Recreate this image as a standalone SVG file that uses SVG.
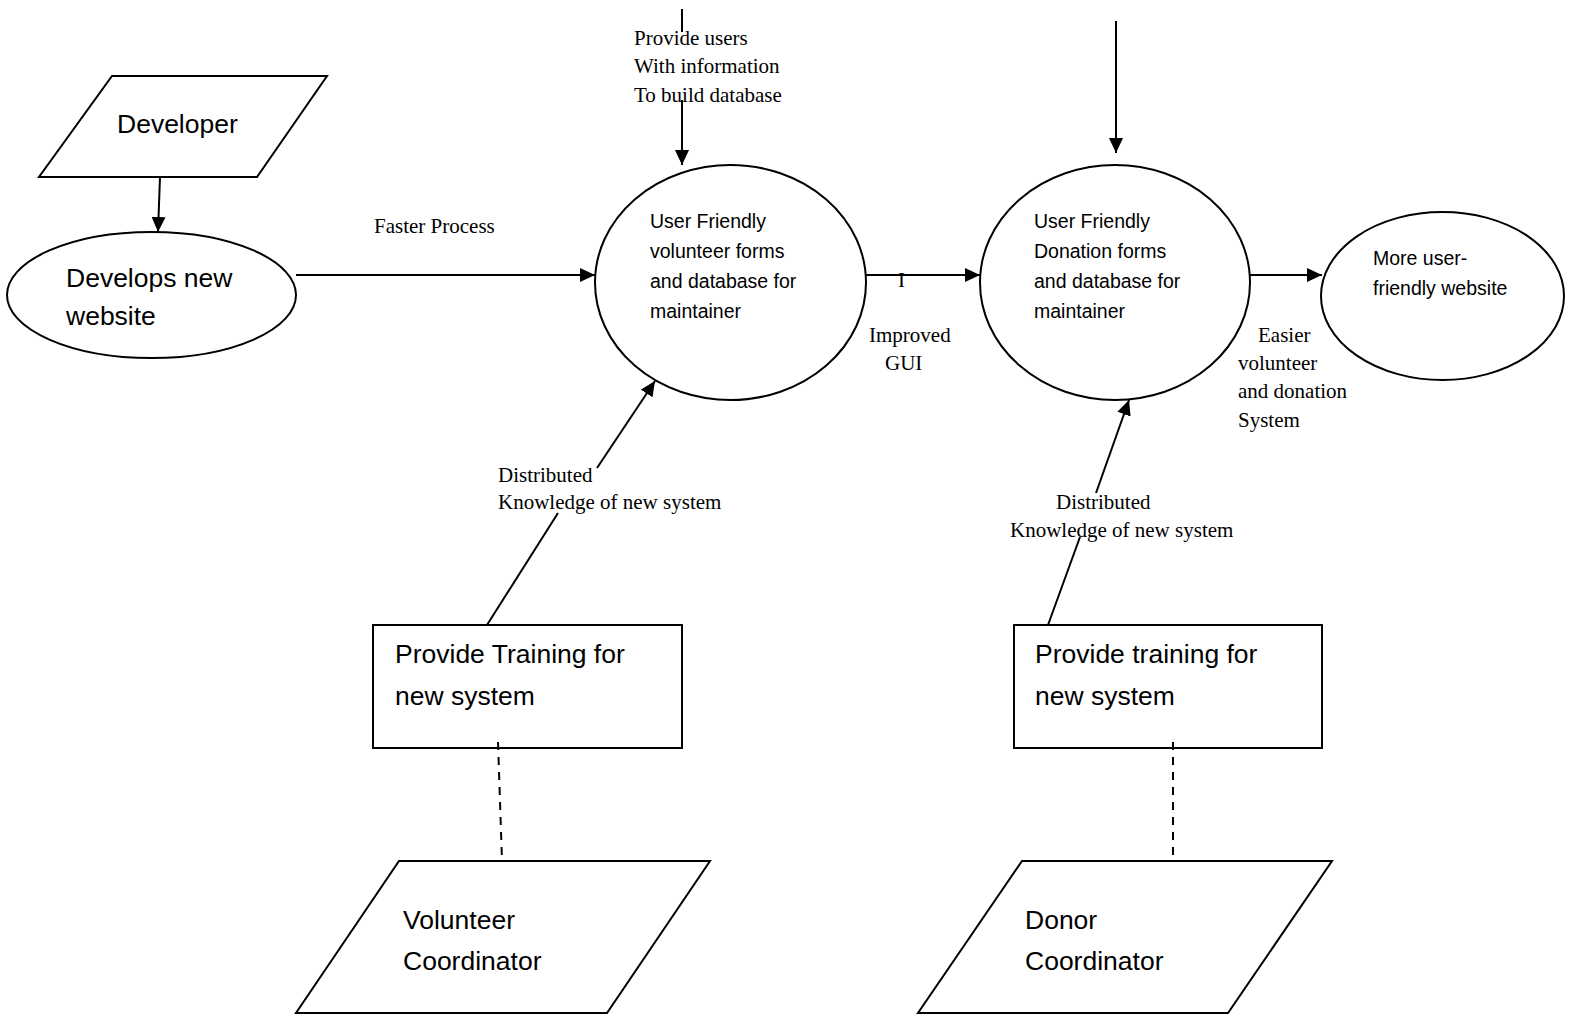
<svg xmlns="http://www.w3.org/2000/svg" width="1575" height="1026" viewBox="0 0 1575 1026">
<style>
.shape{fill:#fff;stroke:#000;stroke-width:2}
.ln{fill:none;stroke:#000;stroke-width:2}
.arr{marker-end:url(#ah)}
.dash{fill:none;stroke:#000;stroke-width:2;stroke-dasharray:8 7}
.sans{font-family:"Liberation Sans",Arial,sans-serif;fill:#000}
.big{font-size:26.5px}
.small{font-size:19.5px}
.serif{font-family:"Liberation Serif","Times New Roman",serif;font-size:21px;fill:#000}
</style>
<defs>
<marker id="ah" markerUnits="userSpaceOnUse" markerWidth="15" markerHeight="14" refX="15" refY="7" orient="auto">
<path d="M0,0 L15,7 L0,14 z" fill="#000"/>
</marker>
</defs>
<rect width="1575" height="1026" fill="#fff"/>

<g id="developer">
<polygon class="shape" points="112,76 327,76 257,177 39,177"/>
<text class="sans big" x="117" y="133">Developer</text>
</g>

<g id="develops-website">
<ellipse class="shape" cx="151.5" cy="295" rx="144.5" ry="63"/>
<text class="sans big" x="66" y="287">Develops new</text>
<text class="sans big" x="66" y="325">website</text>
</g>

<g id="volunteer-forms">
<ellipse class="shape" cx="730.5" cy="282.5" rx="135.5" ry="117.5"/>
<text class="sans small" x="650" y="228">User Friendly</text>
<text class="sans small" x="650" y="258">volunteer forms</text>
<text class="sans small" x="650" y="288">and database for</text>
<text class="sans small" x="650" y="318">maintainer</text>
</g>

<g id="donation-forms">
<ellipse class="shape" cx="1115" cy="282.5" rx="135" ry="117.5"/>
<text class="sans small" x="1034" y="228">User Friendly</text>
<text class="sans small" x="1034" y="258">Donation forms</text>
<text class="sans small" x="1034" y="288">and database for</text>
<text class="sans small" x="1034" y="318">maintainer</text>
</g>

<g id="user-friendly-website">
<ellipse class="shape" cx="1442.5" cy="296" rx="121.5" ry="84"/>
<text class="sans small" x="1373" y="265">More user-</text>
<text class="sans small" x="1373" y="295">friendly website</text>
</g>

<g id="training-volunteer">
<rect class="shape" x="373" y="625" width="309" height="123"/>
<text class="sans big" x="395" y="663">Provide Training for</text>
<text class="sans big" x="395" y="705">new system</text>
</g>

<g id="training-donor">
<rect class="shape" x="1014" y="625" width="308" height="123"/>
<text class="sans big" x="1035" y="663">Provide training for</text>
<text class="sans big" x="1035" y="705">new system</text>
</g>

<g id="volunteer-coordinator">
<polygon class="shape" points="399,861 710,861 607,1013 296,1013"/>
<text class="sans big" x="403" y="929">Volunteer</text>
<text class="sans big" x="403" y="970">Coordinator</text>
</g>

<g id="donor-coordinator">
<polygon class="shape" points="1022,861 1332,861 1228,1013 918,1013"/>
<text class="sans big" x="1025" y="929">Donor</text>
<text class="sans big" x="1025" y="970">Coordinator</text>
</g>

<g id="connectors">
<line class="ln arr" x1="160" y1="177" x2="158" y2="232"/>
<line class="ln arr" x1="296" y1="275" x2="595" y2="275"/>
<line class="ln" x1="682" y1="9" x2="682" y2="32"/>
<line class="ln arr" x1="682" y1="100" x2="682" y2="165"/>
<line class="ln arr" x1="866" y1="275" x2="980" y2="275"/>
<line class="ln arr" x1="1116" y1="21" x2="1116" y2="153"/>
<line class="ln arr" x1="1250" y1="275" x2="1322" y2="275"/>
<line class="ln" x1="487" y1="625" x2="558" y2="513"/>
<line class="ln arr" x1="597" y1="468" x2="655" y2="381"/>
<line class="ln" x1="1048" y1="625" x2="1080" y2="537"/>
<line class="ln arr" x1="1096" y1="493" x2="1129" y2="400"/>
<line class="dash" x1="498" y1="742" x2="502" y2="861"/>
<line class="dash" x1="1173" y1="742" x2="1173" y2="861"/>
</g>

<g id="labels">
<text class="serif" x="374" y="233">Faster Process</text>
<text class="serif" x="634" y="45">Provide users</text>
<text class="serif" x="634" y="73">With information</text>
<text class="serif" x="634" y="102">To build database</text>
<text class="serif" x="898" y="287">I</text>
<text class="serif" x="869" y="342">Improved</text>
<text class="serif" x="885" y="370">GUI</text>
<text class="serif" x="1258" y="342">Easier</text>
<text class="serif" x="1238" y="370">volunteer</text>
<text class="serif" x="1238" y="398">and donation</text>
<text class="serif" x="1238" y="427">System</text>
<text class="serif" x="498" y="482">Distributed</text>
<text class="serif" x="498" y="509">Knowledge of new system</text>
<text class="serif" x="1056" y="509">Distributed</text>
<text class="serif" x="1010" y="537">Knowledge of new system</text>
</g>
</svg>
